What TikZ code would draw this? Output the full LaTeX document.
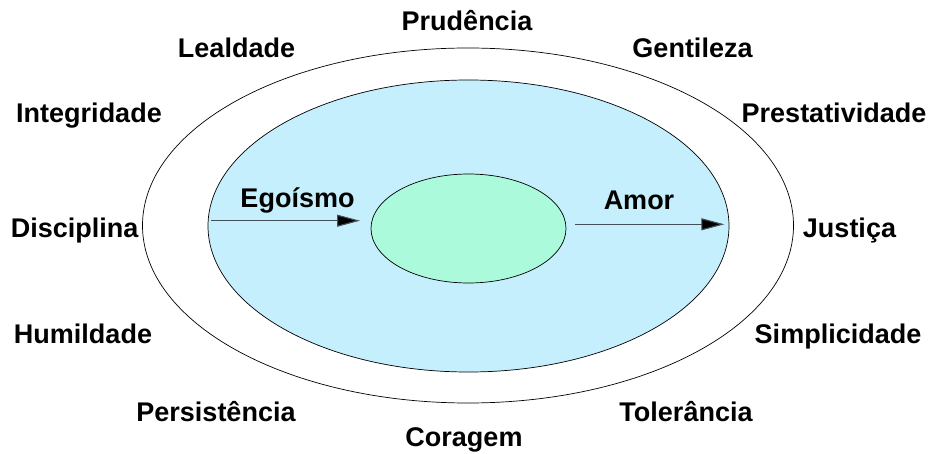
\documentclass[tikz,border=0pt]{standalone}
\usepackage{fontspec}
\setmainfont{Liberation Sans}
\usetikzlibrary{shapes.geometric,arrows.meta}
\definecolor{paleblue}{HTML}{C6EFFD}
\definecolor{palegreen}{HTML}{ACFADC}
\definecolor{arrowgray}{HTML}{465058}
\tikzset{
  ring/.style={draw=black, line width=0.7pt, ellipse, inner sep=0pt},
  lbl/.style={font=\fontsize{27}{30}\selectfont\bfseries, anchor=base, inner sep=0pt},
  flow/.style={draw=arrowgray, line width=1.1pt, -{Triangle[length=23pt,width=12pt,fill=black]}},
}
\begin{document}
\begin{tikzpicture}[x=1pt,y=-1pt]
\useasboundingbox (0,0) rectangle (931,454);
\fill[white] (0,0) rectangle (931,454);
\node[ring, fill=white, minimum width=651pt, minimum height=355pt] (outer) at (468,225.5) {};
\node[ring, fill=paleblue, minimum width=521pt, minimum height=292pt] (mid) at (468.5,226) {};
\node[ring, fill=palegreen, minimum width=195pt, minimum height=109pt] (core) at (468.5,228.5) {};
% labels
\node[lbl] (prud) at (467,30.7) {Prudência};
\node[lbl] (leal) at (236.5,57.3) {Lealdade};
\node[lbl] (gent) at (692.5,57.3) {Gentileza};
\node[lbl] (inte) at (89,122.3) {Integridade};
\node[lbl] (pres) at (834,122.3) {Prestatividade};
\node[lbl] (disc) at (74.7,237.3) {Disciplina};
\node[lbl] (just) at (849.5,237.3) {Justiça};
\node[lbl] (humi) at (83,343.3) {Humildade};
\node[lbl] (simp) at (838,343.3) {Simplicidade};
\node[lbl] (pers) at (216,421) {Persistência};
\node[lbl] (tole) at (686,421) {Tolerância};
\node[lbl] (cora) at (464,446) {Coragem};
\node[lbl] (ego) at (297.5,207.3) {Egoísmo};
\node[lbl] (amor) at (639,209.3) {Amor};
% arrows
\coordinate (e1) at (211,220.7);
\coordinate (e2) at (360,220.7);
\coordinate (a1) at (575,224.3);
\coordinate (a2) at (724.3,224.3);
\draw[flow] (e1) -- (e2);
\draw[flow] (a1) -- (a2);
\end{tikzpicture}
\end{document}
